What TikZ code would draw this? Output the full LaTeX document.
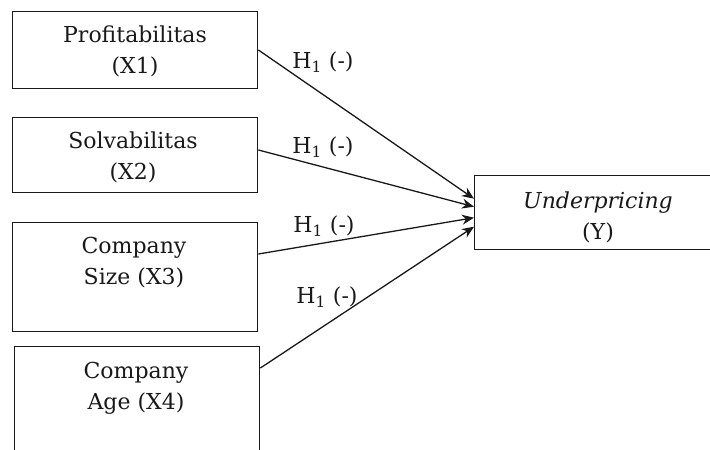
\documentclass[tikz,border=0pt]{standalone}
\usepackage{fontspec}
\setmainfont{DejaVu Serif}
\usetikzlibrary{arrows.meta}
\begin{document}
\begin{tikzpicture}[x=1pt,y=-1pt,
  box/.style={draw=black!90, line width=1.4pt, inner sep=0pt, anchor=north west},
  lbl/.style={align=center, inner sep=0pt, anchor=north, text=black!90,
              font=\fontsize{22}{31}\selectfont},
  hyp/.style={inner sep=0pt, text=black!90, font=\fontsize{22}{26}\selectfont},
  arr/.style={draw=black!90, line width=1.3pt, -{Stealth[length=12pt,width=10pt]}}]
\useasboundingbox (0,0) rectangle (710,450);
\clip (0,0) rectangle (710,450);

% independent variables
\node[box, minimum width=245pt, minimum height=77pt]  (x1) at (12,11)  {};
\node[box, minimum width=245pt, minimum height=75pt]  (x2) at (12,117) {};
\node[box, minimum width=245pt, minimum height=109pt] (x3) at (12,222) {};
\node[box, minimum width=245pt, minimum height=130pt] (x4) at (14,346) {};

\node[lbl] (t1) at (135,26)  {Profitabilitas\\(X1)};
\node[lbl] (t2) at (133,132) {Solvabilitas\\(X2)};
\node[lbl] (t3) at (134,237) {Company\\Size (X3)};
\node[lbl] (t4) at (136,362) {Company\\Age (X4)};

% dependent variable
\node[box, minimum width=248pt, minimum height=74pt] (y) at (474,175) {};
\node[lbl] (ty) at (598,192) {\itshape Underpricing\\(Y)};

% hypothesised paths
\draw[arr] ([yshift=-39pt]x1.north east) -- ([yshift=14pt]y.west);
\draw[arr] ([yshift=-33pt]x2.north east) -- ([yshift=6pt]y.west);
\draw[arr] ([yshift=-32pt]x3.north east) -- ([yshift=-5pt]y.west);
\draw[arr] ([yshift=-22pt]x4.north east) -- ([yshift=-14pt]y.west);

\node[hyp] (h1) at (323,62)  {H\textsubscript{1} (-)};
\node[hyp] (h2) at (323,147) {H\textsubscript{1} (-)};
\node[hyp] (h3) at (324,226) {H\textsubscript{1} (-)};
\node[hyp] (h4) at (327,297) {H\textsubscript{1} (-)};
\end{tikzpicture}
\end{document}
